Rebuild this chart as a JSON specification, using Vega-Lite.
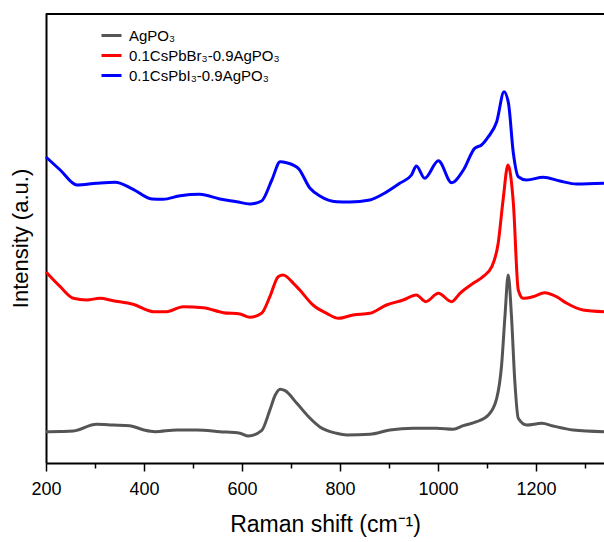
{
  "$schema": "https://vega.github.io/schema/vega-lite/v6.json",
  "autosize": {"type": "none"},
  "padding": {"left": 46, "top": 13, "right": 0, "bottom": 79},
  "width": 558,
  "height": 450,
  "config": {
    "view": {"stroke": null},
    "font": "Liberation Sans",
    "axis": {"grid": false, "domainColor": "#000000", "domainWidth": 2, "tickColor": "#000000", "tickWidth": 1.5, "labelColor": "#000000", "titleColor": "#000000", "labelFont": "Liberation Sans", "titleFont": "Liberation Sans", "titleFontWeight": "normal"}
  },
  "data": {"values": [
    {"s":"AgPO₃","x":200,"y":31.3},{"s":"AgPO₃","x":230,"y":31.5},{"s":"AgPO₃","x":256,"y":32},{"s":"AgPO₃","x":303,"y":38.7},{"s":"AgPO₃","x":337,"y":38},{"s":"AgPO₃","x":371,"y":37.3},{"s":"AgPO₃","x":400,"y":33},{"s":"AgPO₃","x":422,"y":31.3},{"s":"AgPO₃","x":467,"y":33},{"s":"AgPO₃","x":508,"y":33},{"s":"AgPO₃","x":555,"y":31.3},{"s":"AgPO₃","x":596,"y":29.7},{"s":"AgPO₃","x":613,"y":27},{"s":"AgPO₃","x":640,"y":32.3},{"s":"AgPO₃","x":657,"y":53},{"s":"AgPO₃","x":668,"y":68},{"s":"AgPO₃","x":678,"y":73.7},{"s":"AgPO₃","x":688,"y":72.3},{"s":"AgPO₃","x":712,"y":59.7},{"s":"AgPO₃","x":739,"y":44.7},{"s":"AgPO₃","x":759,"y":36},{"s":"AgPO₃","x":793,"y":29.7},{"s":"AgPO₃","x":814,"y":28},{"s":"AgPO₃","x":861,"y":28.7},{"s":"AgPO₃","x":902,"y":33},{"s":"AgPO₃","x":950,"y":34.7},{"s":"AgPO₃","x":997,"y":34.7},{"s":"AgPO₃","x":1031,"y":33.7},{"s":"AgPO₃","x":1052,"y":37.3},{"s":"AgPO₃","x":1079,"y":41.3},{"s":"AgPO₃","x":1103,"y":48},{"s":"AgPO₃","x":1120,"y":64.7},{"s":"AgPO₃","x":1130,"y":98},{"s":"AgPO₃","x":1137,"y":148},{"s":"AgPO₃","x":1143.5,"y":188},{"s":"AgPO₃","x":1150,"y":148},{"s":"AgPO₃","x":1157,"y":81.3},{"s":"AgPO₃","x":1164,"y":44.7},{"s":"AgPO₃","x":1181,"y":38},{"s":"AgPO₃","x":1212,"y":39.7},{"s":"AgPO₃","x":1235,"y":37},{"s":"AgPO₃","x":1276,"y":33},{"s":"AgPO₃","x":1339,"y":31.3},
    {"s":"0.1CsPbBr₃-0.9AgPO₃","x":200,"y":191},{"s":"0.1CsPbBr₃-0.9AgPO₃","x":229,"y":176.3},{"s":"0.1CsPbBr₃-0.9AgPO₃","x":256,"y":164.7},{"s":"0.1CsPbBr₃-0.9AgPO₃","x":283,"y":163},{"s":"0.1CsPbBr₃-0.9AgPO₃","x":310,"y":164.7},{"s":"0.1CsPbBr₃-0.9AgPO₃","x":337,"y":162.3},{"s":"0.1CsPbBr₃-0.9AgPO₃","x":378,"y":158.7},{"s":"0.1CsPbBr₃-0.9AgPO₃","x":419,"y":151.3},{"s":"0.1CsPbBr₃-0.9AgPO₃","x":446,"y":151.3},{"s":"0.1CsPbBr₃-0.9AgPO₃","x":480,"y":156.3},{"s":"0.1CsPbBr₃-0.9AgPO₃","x":521,"y":155.3},{"s":"0.1CsPbBr₃-0.9AgPO₃","x":562,"y":150.3},{"s":"0.1CsPbBr₃-0.9AgPO₃","x":596,"y":149},{"s":"0.1CsPbBr₃-0.9AgPO₃","x":616,"y":145.7},{"s":"0.1CsPbBr₃-0.9AgPO₃","x":640,"y":149.7},{"s":"0.1CsPbBr₃-0.9AgPO₃","x":657,"y":166.3},{"s":"0.1CsPbBr₃-0.9AgPO₃","x":674,"y":186.3},{"s":"0.1CsPbBr₃-0.9AgPO₃","x":684,"y":188},{"s":"0.1CsPbBr₃-0.9AgPO₃","x":705,"y":179.7},{"s":"0.1CsPbBr₃-0.9AgPO₃","x":718,"y":173},{"s":"0.1CsPbBr₃-0.9AgPO₃","x":745,"y":158},{"s":"0.1CsPbBr₃-0.9AgPO₃","x":773,"y":149.7},{"s":"0.1CsPbBr₃-0.9AgPO₃","x":797,"y":144.7},{"s":"0.1CsPbBr₃-0.9AgPO₃","x":827,"y":148},{"s":"0.1CsPbBr₃-0.9AgPO₃","x":861,"y":149.7},{"s":"0.1CsPbBr₃-0.9AgPO₃","x":895,"y":158},{"s":"0.1CsPbBr₃-0.9AgPO₃","x":929,"y":163},{"s":"0.1CsPbBr₃-0.9AgPO₃","x":956,"y":168},{"s":"0.1CsPbBr₃-0.9AgPO₃","x":975,"y":161.3},{"s":"0.1CsPbBr₃-0.9AgPO₃","x":1001,"y":169.7},{"s":"0.1CsPbBr₃-0.9AgPO₃","x":1028,"y":161.3},{"s":"0.1CsPbBr₃-0.9AgPO₃","x":1045,"y":169.7},{"s":"0.1CsPbBr₃-0.9AgPO₃","x":1072,"y":179.7},{"s":"0.1CsPbBr₃-0.9AgPO₃","x":1092,"y":186.3},{"s":"0.1CsPbBr₃-0.9AgPO₃","x":1110,"y":196.3},{"s":"0.1CsPbBr₃-0.9AgPO₃","x":1123,"y":219.7},{"s":"0.1CsPbBr₃-0.9AgPO₃","x":1133,"y":263},{"s":"0.1CsPbBr₃-0.9AgPO₃","x":1143,"y":298},{"s":"0.1CsPbBr₃-0.9AgPO₃","x":1154,"y":259.7},{"s":"0.1CsPbBr₃-0.9AgPO₃","x":1164,"y":173},{"s":"0.1CsPbBr₃-0.9AgPO₃","x":1174,"y":164.7},{"s":"0.1CsPbBr₃-0.9AgPO₃","x":1194,"y":166.3},{"s":"0.1CsPbBr₃-0.9AgPO₃","x":1218,"y":170.3},{"s":"0.1CsPbBr₃-0.9AgPO₃","x":1242,"y":166.3},{"s":"0.1CsPbBr₃-0.9AgPO₃","x":1263,"y":159.7},{"s":"0.1CsPbBr₃-0.9AgPO₃","x":1296,"y":153},{"s":"0.1CsPbBr₃-0.9AgPO₃","x":1339,"y":151.3},
    {"s":"0.1CsPbI₃-0.9AgPO₃","x":200,"y":306},{"s":"0.1CsPbI₃-0.9AgPO₃","x":229,"y":293},{"s":"0.1CsPbI₃-0.9AgPO₃","x":263,"y":278},{"s":"0.1CsPbI₃-0.9AgPO₃","x":303,"y":279.7},{"s":"0.1CsPbI₃-0.9AgPO₃","x":341,"y":280.7},{"s":"0.1CsPbI₃-0.9AgPO₃","x":378,"y":273.7},{"s":"0.1CsPbI₃-0.9AgPO₃","x":416,"y":264},{"s":"0.1CsPbI₃-0.9AgPO₃","x":439,"y":263.7},{"s":"0.1CsPbI₃-0.9AgPO₃","x":474,"y":267.3},{"s":"0.1CsPbI₃-0.9AgPO₃","x":514,"y":268.7},{"s":"0.1CsPbI₃-0.9AgPO₃","x":555,"y":264},{"s":"0.1CsPbI₃-0.9AgPO₃","x":589,"y":261.3},{"s":"0.1CsPbI₃-0.9AgPO₃","x":616,"y":259},{"s":"0.1CsPbI₃-0.9AgPO₃","x":640,"y":262},{"s":"0.1CsPbI₃-0.9AgPO₃","x":661,"y":283},{"s":"0.1CsPbI₃-0.9AgPO₃","x":678,"y":301.3},{"s":"0.1CsPbI₃-0.9AgPO₃","x":691,"y":300.3},{"s":"0.1CsPbI₃-0.9AgPO₃","x":715,"y":294.7},{"s":"0.1CsPbI₃-0.9AgPO₃","x":739,"y":274.7},{"s":"0.1CsPbI₃-0.9AgPO₃","x":759,"y":267},{"s":"0.1CsPbI₃-0.9AgPO₃","x":793,"y":261.3},{"s":"0.1CsPbI₃-0.9AgPO₃","x":820,"y":261},{"s":"0.1CsPbI₃-0.9AgPO₃","x":861,"y":263},{"s":"0.1CsPbI₃-0.9AgPO₃","x":888,"y":269},{"s":"0.1CsPbI₃-0.9AgPO₃","x":922,"y":279.7},{"s":"0.1CsPbI₃-0.9AgPO₃","x":946,"y":288},{"s":"0.1CsPbI₃-0.9AgPO₃","x":956,"y":297},{"s":"0.1CsPbI₃-0.9AgPO₃","x":973,"y":284.7},{"s":"0.1CsPbI₃-0.9AgPO₃","x":1001,"y":302.3},{"s":"0.1CsPbI₃-0.9AgPO₃","x":1028,"y":280.3},{"s":"0.1CsPbI₃-0.9AgPO₃","x":1052,"y":293},{"s":"0.1CsPbI₃-0.9AgPO₃","x":1075,"y":314.7},{"s":"0.1CsPbI₃-0.9AgPO₃","x":1089,"y":318},{"s":"0.1CsPbI₃-0.9AgPO₃","x":1103,"y":326.3},{"s":"0.1CsPbI₃-0.9AgPO₃","x":1120,"y":341.3},{"s":"0.1CsPbI₃-0.9AgPO₃","x":1135,"y":371.3},{"s":"0.1CsPbI₃-0.9AgPO₃","x":1144,"y":359.7},{"s":"0.1CsPbI₃-0.9AgPO₃","x":1154,"y":309.7},{"s":"0.1CsPbI₃-0.9AgPO₃","x":1164,"y":286.3},{"s":"0.1CsPbI₃-0.9AgPO₃","x":1181,"y":283},{"s":"0.1CsPbI₃-0.9AgPO₃","x":1215,"y":285.7},{"s":"0.1CsPbI₃-0.9AgPO₃","x":1249,"y":282},{"s":"0.1CsPbI₃-0.9AgPO₃","x":1283,"y":279},{"s":"0.1CsPbI₃-0.9AgPO₃","x":1339,"y":279.7}
  ]},
  "layer": [
    {
      "mark": {"type": "line", "strokeWidth": 3, "interpolate": "monotone"},
      "encoding": {
        "x": {"field": "x", "type": "quantitative", "scale": {"domain": [200, 1339], "nice": false, "zero": false},
          "axis": {"values": [200, 300, 400, 500, 600, 700, 800, 900, 1000, 1100, 1200, 1300], "format": "d",
            "labelExpr": "datum.value % 200 === 0 ? datum.label : ''",
            "tickSize": {"condition": {"test": "datum.value % 200 === 0", "value": 8}, "value": 5},
            "labelFontSize": 18, "labelPadding": 9, "title": "Raman shift (cm⁻¹)", "titleFontSize": 23, "titlePadding": 15, "labelFlush": false}},
        "y": {"field": "y", "type": "quantitative", "scale": {"domain": [0, 450], "nice": false},
          "axis": {"ticks": false, "labels": false, "title": "Intensity (a.u.)", "titleFontSize": 22, "titlePadding": 14}},
        "color": {"field": "s", "type": "nominal",
          "scale": {"domain": ["AgPO₃", "0.1CsPbBr₃-0.9AgPO₃", "0.1CsPbI₃-0.9AgPO₃"], "range": ["#555555", "#ff0000", "#0000ff"]},
          "legend": {"title": null, "orient": "none", "legendX": 54, "legendY": 11, "symbolType": "stroke", "symbolStrokeWidth": 3, "symbolSize": 400, "labelFontSize": 15, "labelFont": "Liberation Sans", "labelColor": "#000000", "rowPadding": 0, "labelOffset": 6}}
      }
    },
    {
      "mark": {"type": "rule", "stroke": "#000000", "strokeWidth": 2, "opacity": 1},
      "encoding": {
        "y": {"datum": 449}
      }
    }
  ]
}
